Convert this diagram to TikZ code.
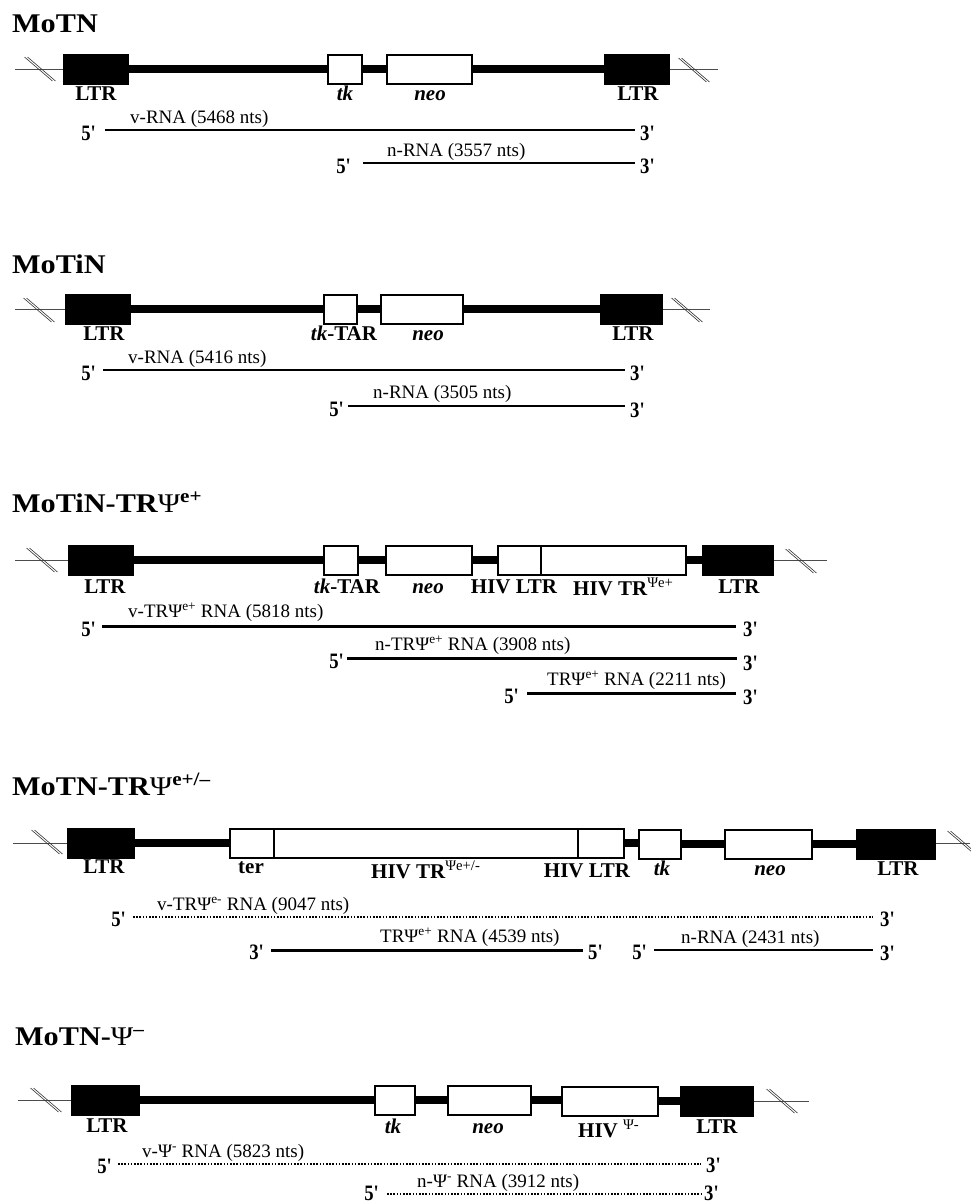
\documentclass[tikz,border=0pt]{standalone}
\usepackage{fontspec}
\setmainfont{Liberation Serif}
\newfontfamily\titlefont{Liberation Serif}[FakeStretch=1.12]
\newfontfamily\primefont{Liberation Serif}[FakeStretch=0.85]
\newcommand\Ttl{\titlefont\fontsize{27}{30}\selectfont\bfseries}
\newcommand\Glab{\fontsize{21}{24}\selectfont\bfseries}
\newcommand\Rlab{\fontsize{19}{22}\selectfont}
\newcommand\Plab{\primefont\fontsize{22}{24}\selectfont\bfseries}
\newcommand\pr{\textquotesingle}
\tikzset{
  ltrbox/.style={draw=black, fill=black, line width=2pt, minimum height=29, inner sep=0pt},
  genebox/.style={draw=black, fill=white, line width=2pt, minimum height=29, inner sep=0pt},
  bbone/.style={line width=7.5pt, black},
  thinln/.style={line width=0.8pt, black!70},
  rnaln/.style={line width=2pt, black},
  rnathick/.style={line width=3pt, black},
  rnadot/.style={line width=2pt, black, dash pattern=on 1.6pt off 1.6pt},
  ttl/.style={anchor=base west, inner sep=0pt, font=\Ttl},
  glab/.style={anchor=base, inner sep=0pt, font=\Glab},
  rlab/.style={anchor=base west, inner sep=0pt, font=\Rlab},
  five/.style={anchor=base east, inner sep=0pt, font=\Plab},
  three/.style={anchor=base west, inner sep=0pt, font=\Plab},
  brk/.pic={\draw[line width=0.6pt, black!80] (-15.5,-12) -- (12.5,12);
            \draw[line width=0.6pt, black!80] (-12.5,-12) -- (15.5,12);}
}
\begin{document}
\begin{tikzpicture}[x=1pt, y=-1pt]
\useasboundingbox (0,0) rectangle (970,1203);

% ================= Row 1: MoTN =================
\node[ttl] (t1) at (12,32) {MoTN};
\node[ltrbox, minimum width=64] (r1L) at (96,69) {};
\node[genebox, minimum width=34] (r1tk) at (345,69) {};
\node[genebox, minimum width=85] (r1neo) at (429.5,69) {};
\node[ltrbox, minimum width=64] (r1R) at (637,69) {};
\coordinate (r1a) at (15,69);
\coordinate (r1b) at (718,69);
\draw[thinln] (r1a) -- (r1L);
\draw[thinln] (r1R) -- (r1b);
\draw[bbone] (r1L) -- (r1tk);
\draw[bbone] (r1tk) -- (r1neo);
\draw[bbone] (r1neo) -- (r1R);
\pic at (40,69) {brk};
\pic at (694,70) {brk};
\node[glab] (r1Ll) at (96,100) {LTR};
\node[glab] (r1tkl) at (345,100) {\textit{tk}};
\node[glab] (r1neol) at (430,100) {\textit{neo}};
\node[glab] (r1Rl) at (638,100) {LTR};
\coordinate (r1v0) at (105,130); \coordinate (r1v1) at (635,130);
\draw[rnaln] (r1v0) -- (r1v1);
\node[five] (r1v5) at (97,140) {5\pr};
\node[three] (r1v3) at (640,140) {3\pr};
\node[rlab] (r1vl) at (130,123) {v-RNA (5468 nts)};
\coordinate (r1n0) at (363,163); \coordinate (r1n1) at (635,163);
\draw[rnaln] (r1n0) -- (r1n1);
\node[five] (r1n5) at (352,173) {5\pr};
\node[three] (r1n3) at (640,173) {3\pr};
\node[rlab] (r1nl) at (387,156) {n-RNA (3557 nts)};

% ================= Row 2: MoTiN =================
\node[ttl] (t2) at (12,273) {MoTiN};
\node[ltrbox, minimum width=64] (r2L) at (98,309) {};
\node[genebox, minimum width=33] (r2tk) at (340.5,309) {};
\node[genebox, minimum width=82] (r2neo) at (422,309) {};
\node[ltrbox, minimum width=61] (r2R) at (631.5,309) {};
\coordinate (r2a) at (15,309);
\coordinate (r2b) at (710,309);
\draw[thinln] (r2a) -- (r2L);
\draw[thinln] (r2R) -- (r2b);
\draw[bbone] (r2L) -- (r2tk);
\draw[bbone] (r2tk) -- (r2neo);
\draw[bbone] (r2neo) -- (r2R);
\pic at (39,310) {brk};
\pic at (687,310) {brk};
\node[glab] (r2Ll) at (104,340) {LTR};
\node[glab] (r2tkl) at (344,340) {\textit{tk}-TAR};
\node[glab] (r2neol) at (428,340) {\textit{neo}};
\node[glab] (r2Rl) at (633,340) {LTR};
\coordinate (r2v0) at (103,370); \coordinate (r2v1) at (625,370);
\draw[rnaln] (r2v0) -- (r2v1);
\node[five] (r2v5) at (97,380) {5\pr};
\node[three] (r2v3) at (630,380) {3\pr};
\node[rlab] (r2vl) at (128,363) {v-RNA (5416 nts)};
\coordinate (r2n0) at (348,406); \coordinate (r2n1) at (625,406);
\draw[rnaln] (r2n0) -- (r2n1);
\node[five] (r2n5) at (345,416) {5\pr};
\node[three] (r2n3) at (630,417) {3\pr};
\node[rlab] (r2nl) at (373,398) {n-RNA (3505 nts)};

% ================= Row 3: MoTiN-TRPsi e+ =================
\node[ttl] (t3) at (12,512) {MoTiN-TR{\mdseries Ψ}\textsuperscript{e+}};
\node[ltrbox, minimum width=64] (r3L) at (101,560) {};
\node[genebox, minimum width=34] (r3tk) at (341,560) {};
\node[genebox, minimum width=86] (r3neo) at (429,560) {};
\node[genebox, minimum width=43] (r3hl) at (519.5,560) {};
\node[genebox, minimum width=145] (r3ht) at (613.5,560) {};
\node[ltrbox, minimum width=70] (r3R) at (738,560) {};
\coordinate (r3a) at (15,560);
\coordinate (r3b) at (827,560);
\draw[thinln] (r3a) -- (r3L);
\draw[thinln] (r3R) -- (r3b);
\draw[bbone] (r3L) -- (r3tk);
\draw[bbone] (r3tk) -- (r3neo);
\draw[bbone] (r3neo) -- (r3hl);
\draw[bbone] (r3ht) -- (r3R);
\pic at (42,560) {brk};
\pic at (801,561) {brk};
\node[glab] (r3Ll) at (105,593) {LTR};
\node[glab] (r3tkl) at (347,593) {\textit{tk}-TAR};
\node[glab] (r3neol) at (428,593) {\textit{neo}};
\node[glab] (r3hll) at (514,593) {HIV LTR};
\node[glab, anchor=base west] (r3htl) at (573,595) {HIV TR\textsuperscript{\mdseries Ψe+}};
\node[glab] (r3Rl) at (739,593) {LTR};
\coordinate (r3v0) at (102,626); \coordinate (r3v1) at (736,626);
\draw[rnathick] (r3v0) -- (r3v1);
\node[five] (r3v5) at (97,636) {5\pr};
\node[three] (r3v3) at (743,636) {3\pr};
\node[rlab] (r3vl) at (128,617) {v-TRΨ\textsuperscript{e+} RNA (5818 nts)};
\coordinate (r3n0) at (347,658); \coordinate (r3n1) at (737,658);
\draw[rnathick] (r3n0) -- (r3n1);
\node[five] (r3n5) at (345,668) {5\pr};
\node[three] (r3n3) at (743,670) {3\pr};
\node[rlab] (r3nl) at (375,650) {n-TRΨ\textsuperscript{e+} RNA (3908 nts)};
\coordinate (r3t0) at (527,693); \coordinate (r3t1) at (736,693);
\draw[rnathick] (r3t0) -- (r3t1);
\node[five] (r3t5) at (520,703) {5\pr};
\node[three] (r3t3) at (743,704) {3\pr};
\node[rlab] (r3tl) at (547,685) {TRΨ\textsuperscript{e+} RNA (2211 nts)};

% ================= Row 4: MoTN-TRPsi e+/- =================
\node[ttl] (t4) at (12,795) {MoTN-TR{\mdseries Ψ}\textsuperscript{e+/–}};
\node[ltrbox, minimum width=66] (r4L) at (101,843) {};
\node[genebox, minimum width=44] (r4ter) at (252,843) {};
\node[genebox, minimum width=304] (r4ht) at (426,843) {};
\node[genebox, minimum width=46] (r4hl) at (601,843) {};
\node[genebox, minimum width=42] (r4tk) at (660,844) {};
\node[genebox, minimum width=87] (r4neo) at (768.5,844) {};
\node[ltrbox, minimum width=78] (r4R) at (896,844) {};
\coordinate (r4a) at (13,843);
\coordinate (r4b) at (970,843);
\draw[thinln] (r4a) -- (r4L);
\draw[thinln] (r4R.east |- r4b) -- (r4b);
\draw[bbone] (r4L) -- (r4ter);
\draw[bbone] (r4hl.east) -- (r4tk.west |- r4hl.east);
\draw[bbone] (r4tk) -- (r4neo);
\draw[bbone] (r4neo) -- (r4R);
\pic at (47,842) {brk};
\pic at (963,843) {brk};
\node[glab] (r4Ll) at (104,873) {LTR};
\node[glab] (r4terl) at (251,873) {ter};
\node[glab, anchor=base west] (r4htl) at (371,878) {HIV TR\textsuperscript{\mdseries Ψe+/-}};
\node[glab] (r4hll) at (587,877) {HIV LTR};
\node[glab] (r4tkl) at (662,875) {\textit{tk}};
\node[glab] (r4neol) at (770,875) {\textit{neo}};
\node[glab] (r4Rl) at (898,875) {LTR};
\coordinate (r4v0) at (133,917); \coordinate (r4v1) at (873,917);
\draw[rnadot] (r4v0) -- (r4v1);
\node[five] (r4v5) at (127,926) {5\pr};
\node[three] (r4v3) at (880,926) {3\pr};
\node[rlab] (r4vl) at (157,910) {v-TRΨ\textsuperscript{e-} RNA (9047 nts)};
\coordinate (r4t0) at (271,950); \coordinate (r4t1) at (583,950);
\draw[rnathick] (r4t0) -- (r4t1);
\node[five] (r4t3) at (265,959) {3\pr};
\node[three] (r4t5) at (588,959) {5\pr};
\node[rlab] (r4tl) at (380,942) {TRΨ\textsuperscript{e+} RNA (4539 nts)};
\coordinate (r4n0) at (654,950); \coordinate (r4n1) at (873,950);
\draw[rnaln] (r4n0) -- (r4n1);
\node[five] (r4n5) at (648,959) {5\pr};
\node[three] (r4n3) at (880,960) {3\pr};
\node[rlab] (r4nl) at (681,943) {n-RNA (2431 nts)};

% ================= Row 5: MoTN-Psi- =================
\node[ttl] (t5) at (15,1045) {MoTN-{\mdseries Ψ}\textsuperscript{–}};
\node[ltrbox, minimum width=67] (r5L) at (105.5,1100) {};
\node[genebox, minimum width=40] (r5tk) at (395,1100) {};
\node[genebox, minimum width=83] (r5neo) at (489.5,1100) {};
\node[genebox, minimum width=96] (r5hp) at (610,1101) {};
\node[ltrbox, minimum width=72] (r5R) at (717,1101) {};
\coordinate (r5a) at (18,1100);
\coordinate (r5b) at (809,1101);
\draw[thinln] (r5a) -- (r5L);
\draw[thinln] (r5R) -- (r5b);
\draw[bbone] (r5L) -- (r5tk);
\draw[bbone] (r5tk) -- (r5neo);
\draw[bbone] (r5neo.east) -- (r5hp.west |- r5neo.east);
\draw[bbone] (r5hp) -- (r5R);
\pic at (46,1100) {brk};
\pic at (782,1101) {brk};
\node[glab] (r5Ll) at (107,1132) {LTR};
\node[glab] (r5tkl) at (393,1133) {\textit{tk}};
\node[glab] (r5neol) at (488,1133) {\textit{neo}};
\node[glab, anchor=base west] (r5hpl) at (578,1137) {HIV \textsuperscript{\mdseries Ψ-}};
\node[glab] (r5Rl) at (717,1133) {LTR};
\coordinate (r5v0) at (118,1164); \coordinate (r5v1) at (701,1164);
\draw[rnadot] (r5v0) -- (r5v1);
\node[five] (r5v5) at (113,1173) {5\pr};
\node[three] (r5v3) at (706,1172) {3\pr};
\node[rlab] (r5vl) at (142,1157) {v-Ψ\textsuperscript{-} RNA (5823 nts)};
\coordinate (r5n0) at (387,1194); \coordinate (r5n1) at (703,1194);
\draw[rnadot] (r5n0) -- (r5n1);
\node[five] (r5n5) at (380,1200) {5\pr};
\node[three] (r5n3) at (704,1200) {3\pr};
\node[rlab] (r5nl) at (417,1187) {n-Ψ\textsuperscript{-} RNA (3912 nts)};
\end{tikzpicture}
\end{document}
